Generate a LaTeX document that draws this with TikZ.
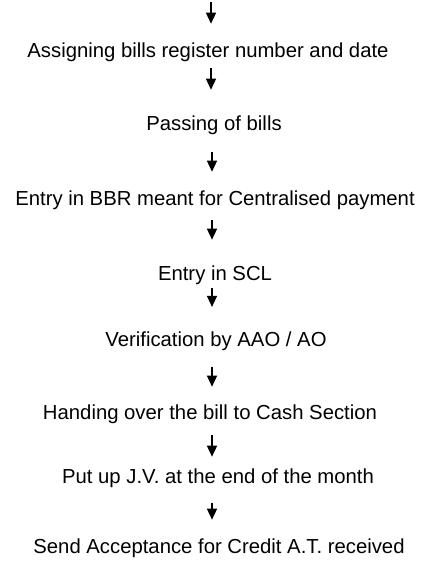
\documentclass[tikz,border=0pt]{standalone}
\usepackage{fontspec}
\setmainfont{Liberation Sans}
\usetikzlibrary{arrows.meta}
\begin{document}
\begin{tikzpicture}[x=1pt,y=-1pt,
  lbl/.style={anchor=base, inner sep=0pt, font=\fontsize{20.3}{24}\selectfont, text height=14.6pt, text depth=4.2pt},
  arr/.style={line width=1.4pt, -{Triangle[width=10pt,length=11pt]}}]
\useasboundingbox (0,0) rectangle (424,573);
\coordinate (ax) at (212,0);
\node[lbl] (n1) at (208,57) {Assigning bills register number and date};
\node[lbl] (n2) at (214,130) {Passing of bills};
\node[lbl] (n3) at (215,205) {Entry in BBR meant for Centralised payment};
\node[lbl] (n4) at (215,280) {Entry in SCL};
\node[lbl] (n5) at (216,346.7) {Verification by AAO / AO};
\node[lbl] (n6) at (210,419) {Handing over the bill to Cash Section};
\node[lbl] (n7) at (218,483) {Put up J.V. at the end of the month};
\node[lbl] (n8) at (219,553) {Send Acceptance for Credit A.T. received};
\coordinate (top) at (211,2);
\draw[arr, shorten >=18.5pt] (top) -- (n1.north -| top);
\draw[arr, shorten <=6.8pt, shorten >=25.5pt] (n1.south -| top) -- (n2.north -| top);
\draw[arr, shorten <=17.8pt, shorten >=18.5pt] (n2.south -| ax) -- (n3.north -| ax);
\draw[arr, shorten <=10.8pt, shorten >=25.5pt] (n3.south -| ax) -- (n4.north -| ax);
\draw[arr, shorten <=3.8pt, shorten >=25pt] (n4.south -| ax) -- (n5.north -| ax);
\draw[arr, shorten <=16pt, shorten >=17.5pt] (n5.south -| ax) -- (n6.north -| ax);
\draw[arr, shorten <=12pt, shorten >=11.5pt] (n6.south -| ax) -- (n7.north -| ax);
\draw[arr, shorten <=15.8pt, shorten >=18.5pt] (n7.south -| ax) -- (n8.north -| ax);
\end{tikzpicture}
\end{document}
